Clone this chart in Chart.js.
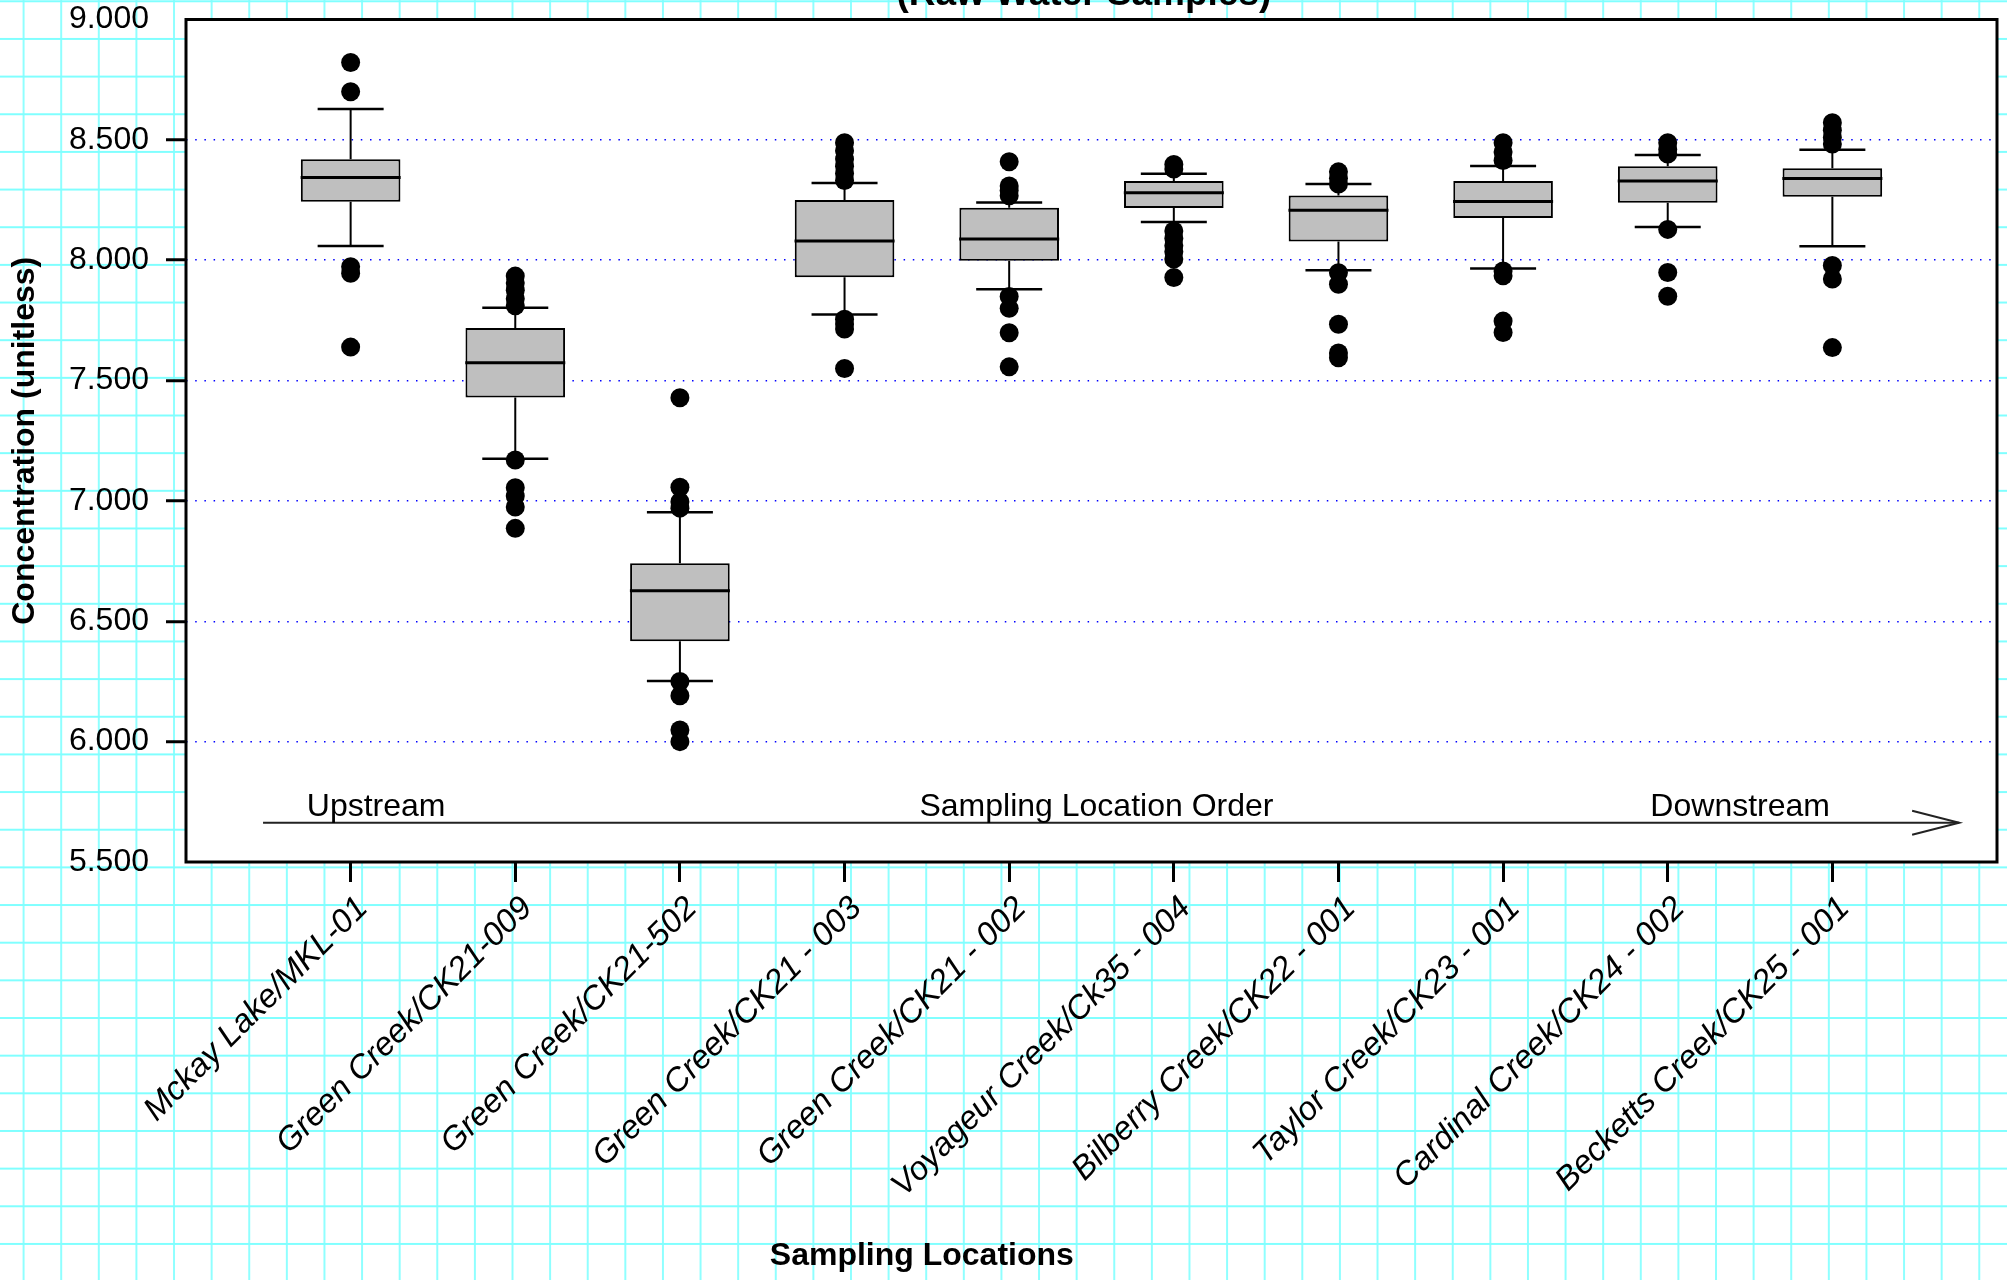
<!DOCTYPE html>
<html><head><meta charset="utf-8">
<script src="https://cdn.jsdelivr.net/npm/chart.js@4.4.1/dist/chart.umd.min.js"></script>
<style>
html,body{margin:0;padding:0;}
body{width:2007px;height:1280px;overflow:hidden;background-color:#fff;
background-image:linear-gradient(to bottom,#80ffff 0,#80ffff 2px,transparent 2px),linear-gradient(to right,#8fffff 0,#8fffff 1.5px,transparent 1.5px);
background-size:100% 37.67px,37.62px 100%;
background-position:0 0.3px,22.6px 0;}
#wrap{position:absolute;left:0;top:0;width:2007px;height:1280px;}
</style></head><body>
<div id="wrap"><canvas id="c" width="2007" height="1280"></canvas></div>
<script>
// ---- data ----
const categories = ['Mckay Lake/MKL-01','Green Creek/CK21-009','Green Creek/CK21-502','Green Creek/CK21 - 003','Green Creek/CK21 - 002','Voyageur Creek/Ck35 - 004','Bilberry Creek/CK22 - 001','Taylor Creek/CK23 - 001','Cardinal Creek/CK24 - 002','Becketts Creek/CK25 - 001'];
const lowerWhisker = [8.059, 7.175, 6.252, 7.775, 7.879, 8.159, 7.958, 7.966, 8.138, 8.058];
const q1           = [8.243, 7.430, 6.417, 7.929, 7.998, 8.217, 8.078, 8.175, 8.239, 8.264];
const median       = [8.344, 7.574, 6.627, 8.080, 8.088, 8.280, 8.208, 8.244, 8.329, 8.339];
const q3           = [8.419, 7.718, 6.741, 8.250, 8.218, 8.329, 8.269, 8.329, 8.390, 8.382];
const upperWhisker = [8.628, 7.803, 6.953, 8.321, 8.240, 8.359, 8.317, 8.391, 8.437, 8.459];
const outliers = [
  [8.821, 8.700, 7.973, 7.946, 7.639],
  [7.934, 7.905, 7.875, 7.840, 7.811, 7.170, 7.055, 7.020, 6.975, 6.886],
  [7.429, 7.057, 6.997, 6.970, 6.250, 6.191, 6.048, 6.000],
  [8.488, 8.455, 8.420, 8.390, 8.360, 8.331, 7.755, 7.735, 7.714, 7.550],
  [8.409, 8.308, 8.290, 8.268, 7.849, 7.800, 7.699, 7.557],
  [8.398, 8.379, 8.121, 8.090, 8.060, 8.035, 8.005, 7.928],
  [8.367, 8.340, 8.317, 7.948, 7.900, 7.734, 7.615, 7.595],
  [8.488, 8.450, 8.414, 7.955, 7.935, 7.747, 7.700],
  [8.488, 8.460, 8.441, 8.128, 7.949, 7.850],
  [8.571, 8.540, 8.510, 8.483, 7.978, 7.922, 7.637]
];
const yMin = 5.5, yMax = 9.0, yStep = 0.5;
const xMin = 0, xMax = 11;
const arrowX = [0.468, 10.77];
const arrowY = 5.663;
const arrowLabels = ['Upstream', 'Sampling Location Order', 'Downstream'];
const arrowLabelX = [1.155, 5.53, 9.44];
const arrowLabelY = 5.69;
const mainTitle = '(Raw Water Samples)';
const xTitle = 'Sampling Locations';
const yTitle = 'Concentration (unitless)';

// ---- build datasets ----
const FONT = "'Liberation Sans', Arial, Helvetica, sans-serif";
const xs = categories.map((_, i) => i + 1);
const boxData = xs.map((x, i) => ({x, y: [q1[i], q3[i]]}));
const whiskerData = [];
xs.forEach((x, i) => {
  whiskerData.push({x, y: q3[i]}, {x, y: upperWhisker[i]}, {x, y: null},
                   {x, y: q1[i]}, {x, y: lowerWhisker[i]}, {x, y: null});
});
const capData = xs.flatMap((x, i) => [{x, y: upperWhisker[i]}, {x, y: lowerWhisker[i]}]);
const medianData = xs.map((x, i) => ({x, y: median[i]}));
const outlierData = xs.flatMap((x, i) => outliers[i].map(y => ({x, y})));
const arrowData = arrowX.map(x => ({x, y: arrowY}));

const inner = v => v > yMin + 1e-9 && v < yMax - 1e-9;

const decor = {
  id: 'decor',
  beforeDraw(chart) {
    const {ctx, chartArea: a} = chart;
    ctx.save();
    ctx.fillStyle = '#ffffff';
    ctx.fillRect(a.left, a.top, a.right - a.left, a.bottom - a.top);
    ctx.restore();
  },
  afterDatasetsDraw(chart) {
    const {ctx, scales: {x, y}} = chart;
    ctx.save();
    const tx = x.getPixelForValue(arrowX[1]), ty = y.getPixelForValue(arrowY);
    ctx.strokeStyle = '#222'; ctx.lineWidth = 2;
    ctx.beginPath();
    ctx.moveTo(tx - 47, ty - 12); ctx.lineTo(tx, ty); ctx.lineTo(tx - 47, ty + 12);
    ctx.stroke();
    ctx.fillStyle = '#000';
    ctx.font = '32px ' + FONT;
    ctx.textAlign = 'center'; ctx.textBaseline = 'alphabetic';
    arrowLabels.forEach((t, i) => ctx.fillText(t, x.getPixelForValue(arrowLabelX[i]), y.getPixelForValue(arrowLabelY)));
    ctx.restore();
  },
  afterDraw(chart) {
    const {ctx, chartArea: a} = chart;
    ctx.save();
    ctx.strokeStyle = '#000'; ctx.lineWidth = 3;
    ctx.strokeRect(a.left, a.top, a.right - a.left, a.bottom - a.top);
    ctx.fillStyle = '#000';
    ctx.textAlign = 'center'; ctx.textBaseline = 'alphabetic';
    ctx.font = 'bold 37px ' + FONT;
    ctx.fillText(mainTitle, a.left + (a.right - a.left) * 0.4958, 5);
    ctx.font = 'bold 32px ' + FONT;
    ctx.fillText(xTitle, chart.width * 0.4593, chart.height - 15);
    ctx.restore();
  }
};

Chart.defaults.font.family = FONT;
Chart.defaults.color = '#000';

new Chart(document.getElementById('c'), {
  data: {
    datasets: [
      {type: 'line', data: arrowData, borderColor: '#222', borderWidth: 2, pointRadius: 0, order: 9},
      {type: 'line', data: whiskerData, borderColor: '#000', borderWidth: 2, pointRadius: 0, spanGaps: false, order: 8},
      {type: 'bar', data: boxData, backgroundColor: '#bfbfbf', borderColor: '#000', borderWidth: 2,
       borderSkipped: false, barPercentage: 0.605, categoryPercentage: 1, order: 6},
      {type: 'line', data: capData, showLine: false, pointStyle: 'line', pointRadius: 33,
       pointBorderWidth: 2.5, pointBorderColor: '#000', order: 5},
      {type: 'line', data: medianData, showLine: false, pointStyle: 'line', pointRadius: 50,
       pointBorderWidth: 3, pointBorderColor: '#000', order: 4},
      {type: 'line', data: outlierData, showLine: false, pointStyle: 'circle', pointRadius: 9.5,
       pointBackgroundColor: '#000', pointBorderWidth: 0, order: 1}
    ]
  },
  options: {
    responsive: false,
    devicePixelRatio: 1,
    animation: false,
    events: [],
    layout: {autoPadding: false, padding: {top: 19.5, right: 10, left: 0, bottom: 0}},
    plugins: {legend: {display: false}, tooltip: {enabled: false}, title: {display: false}},
    scales: {
      x: {
        type: 'linear', min: xMin, max: xMax, offset: false,
        afterBuildTicks: s => { s.ticks = xs.map(v => ({value: v})); },
        afterFit: s => { s.height = 418; s.paddingLeft = 0; s.paddingRight = 0; s.paddingTop = 0; s.paddingBottom = 0; },
        ticks: {
          autoSkip: false, maxRotation: 45, minRotation: 45, padding: 7, labelOffset: 12,
          font: {size: 33, style: 'italic'},
          callback: v => categories[v - 1] || ''
        },
        grid: {offset: false, drawOnChartArea: false, drawTicks: true, tickLength: 20, tickWidth: 3,
               tickColor: '#000', color: 'rgba(0,0,0,0)'},
        border: {display: false}
      },
      y: {
        type: 'linear', min: yMin, max: yMax,
        afterFit: s => { s.width = 186; s.paddingLeft = 0; s.paddingRight = 0; s.paddingTop = 0; s.paddingBottom = 0; },
        ticks: {stepSize: yStep, padding: 17, font: {size: 32}, callback: v => Number(v).toFixed(3)},
        grid: {
          offset: false,
          color: c => (c.tick && inner(c.tick.value)) ? '#0000ff' : 'rgba(0,0,0,0)',
          lineWidth: 1.5, tickLength: 20, tickWidth: 3,
          tickColor: c => (c.tick && inner(c.tick.value)) ? '#000' : 'rgba(0,0,0,0)'
        },
        border: {display: false, dash: [1.5, 7.7]},
        title: {display: true, text: yTitle, font: {size: 32, weight: 'bold'}, padding: {top: 6, bottom: 0}}
      }
    }
  },
  plugins: [decor]
});
</script>
</body></html>
